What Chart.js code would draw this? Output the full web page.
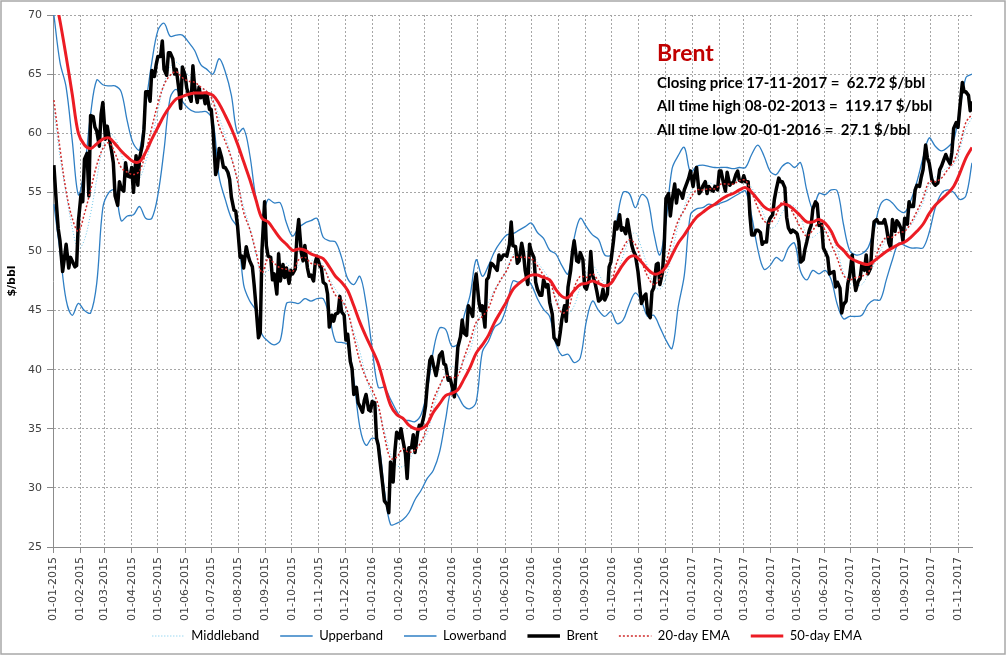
<!DOCTYPE html>
<html>
<head>
<meta charset="utf-8">
<script src="https://cdn.jsdelivr.net/npm/chart.js@4.4.0/dist/chart.umd.min.js"></script>
<style>
html,body{margin:0;padding:0;background:#fff;}
#wrap{position:relative;width:1007px;height:657px;}
</style>
</head>
<body>
<div id="wrap"><canvas id="c"></canvas></div>
<script>
// ---- tick labels (x axis, month starts) ----
const tickLabels = [
 '01-01-2015','01-02-2015','01-03-2015','01-04-2015','01-05-2015','01-06-2015','01-07-2015','01-08-2015','01-09-2015','01-10-2015','01-11-2015','01-12-2015',
 '01-01-2016','01-02-2016','01-03-2016','01-04-2016','01-05-2016','01-06-2016','01-07-2016','01-08-2016','01-09-2016','01-10-2016','01-11-2016','01-12-2016',
 '01-01-2017','01-02-2017','01-03-2017','01-04-2017','01-05-2017','01-06-2017','01-07-2017','01-08-2017','01-09-2017','01-10-2017','01-11-2017'
];
const axisStart = '2015-01-01';
const axisEnd = '2017-11-17';
const firstFriday = '2015-01-02';   // weekly samples: every Friday from here
const weekCount = 151;

// ---- Brent closing price, Mon/Wed/Fri samples (first week: Friday only) ----
const brentValues = [
 57.3,
 /* Jan 15 */ 53.9,51.9,50.9, 48.3,49.4,50.6, 48.6,49.5,49.2, 48.7,48.8,52.5,
 /* Feb 15 */ 54.8,54.2,57.8, 58.3,54.7,61.5, 61.4,60.5,60.2, 58.9,61.6,62.6,
 /* Mar 15 */ 59.5,60.6,59.7, 58.5,57.5,54.7, 53.9,55.9,55.3, 55.1,57.5,56.4, 56.3,57.1,55.0,
 /* Apr 15 */ 58.1,55.6,57.9, 58.9,60.3,63.5, 63.5,62.7,65.3, 64.8,65.8,66.5,
 /* May 15 */ 66.5,67.8,65.4, 64.9,66.8,66.8, 66.3,65.0,65.4, 63.7,62.1,65.6,
 /* Jun 15 */ 64.9,63.8,63.3, 62.7,65.7,63.9, 62.6,63.9,63.0, 63.3,62.5,63.3, 62.0,62.0,60.3,
 /* Jul 15 */ 56.5,57.1,58.7, 57.9,57.1,57.1, 56.7,56.1,54.6, 53.5,53.4,52.2,
 /* Aug 15 */ 49.5,49.6,48.6, 50.4,49.7,49.2, 48.7,47.2,45.5, 42.7,43.1,50.1,
 /* Sep 15 */ 54.2,50.5,49.6, 49.5,47.6,48.1, 46.4,49.8,47.5, 48.9,47.8,48.6, 47.3,48.4,48.1,
 /* Oct 15 */ 48.5,51.3,52.7, 49.9,49.2,50.5, 48.6,47.9,48.0, 47.5,49.1,49.6,
 /* Nov 15 */ 48.8,48.6,47.4, 47.2,46.4,43.6, 44.6,44.1,44.7, 44.8,46.2,44.9,
 /* Dec 15 */ 44.6,42.5,43.0, 40.7,40.1,37.9, 38.5,37.2,36.9, 36.4,37.4,37.9, 36.6,36.5,37.3,
 /* Jan 16 */ 37.2,34.2,33.6, 31.6,30.3,28.9, 28.6,27.9,32.2, 30.5,33.1,34.7,
 /* Feb 16 */ 34.2,35.0,34.1, 32.9,30.8,33.4, 33.4,34.5,33.0, 34.7,35.3,35.1,
 /* Mar 16 */ 36.0,36.9,38.7, 40.8,41.1,40.4, 39.5,40.3,41.2, 41.5,40.5,40.4, 39.1,39.3,38.7,
 /* Apr 16 */ 37.7,39.8,41.9, 42.8,44.2,43.1, 42.9,45.4,45.1, 44.5,47.2,48.1,
 /* May 16 */ 45.8,45.0,45.4, 43.6,47.6,47.8, 49.0,48.9,48.7, 48.4,49.7,49.3,
 /* Jun 16 */ 49.7,49.7,49.6, 50.6,52.5,50.5, 50.4,49.0,49.2, 50.7,49.9,48.4, 47.2,50.6,50.0,
 /* Jul 16 */ 49.5,47.4,46.8, 46.3,46.3,47.6, 47.0,47.2,45.7, 44.7,42.7,42.5,
 /* Aug 16 */ 42.1,43.1,44.3, 45.4,44.1,47.0, 48.4,49.9,50.9, 49.2,49.1,49.9,
 /* Sep 16 */ 49.3,47.0,46.8, 47.6,50.0,48.0, 47.3,46.6,45.8, 46.0,46.8,45.9, 46.4,48.7,49.1,
 /* Oct 16 */ 50.9,52.5,51.9, 53.1,51.8,52.0, 51.5,52.7,51.8, 50.5,50.0,49.7,
 /* Nov 16 */ 48.3,46.9,45.6, 46.2,46.4,44.8, 44.4,46.6,46.9, 48.9,49.0,47.2,
 /* Dec 16 */ 48.2,50.5,54.5, 54.9,53.0,54.3, 55.7,54.1,55.2, 54.9,54.5,55.2, 55.8,56.2,56.8,
 /* Jan 17 */ 55.5,56.5,57.1, 54.9,55.1,55.5, 55.9,54.9,55.5, 55.2,55.1,55.5,
 /* Feb 17 */ 55.2,56.8,56.8, 55.7,55.1,56.7, 55.6,55.8,55.8, 56.5,56.8,56.0,
 /* Mar 17 */ 55.9,56.4,55.9, 55.9,53.1,51.4, 51.4,51.8,51.8, 51.6,50.6,50.8, 50.8,52.4,52.8,
 /* Apr 17 */ 53.1,54.4,55.2, 56.2,55.9,55.9, 55.4,52.9,52.0, 51.6,51.8,51.7,
 /* May 17 */ 51.5,50.8,49.1, 49.3,50.2,50.8, 51.8,52.2,53.6, 54.2,54.0,52.2,
 /* Jun 17 */ 52.3,50.3,50.0, 49.5,48.1,48.2, 48.3,47.0,47.4, 46.9,44.8,45.5, 45.8,47.3,47.9,
 /* Jul 17 */ 49.7,47.8,46.7, 47.5,47.7,48.9, 48.4,49.7,48.1, 48.6,51.0,52.5,
 /* Aug 17 */ 52.7,52.4,52.4, 52.4,52.7,52.1, 50.7,50.3,52.7, 51.7,52.6,52.4,
 /* Sep 17 */ 51.9,50.9,52.8, 52.3,54.2,53.8, 53.8,55.2,55.6, 55.5,56.3,56.9, 59.0,57.9,57.5,
 /* Oct 17 */ 56.1,55.8,55.6, 55.8,56.9,57.2, 57.8,58.2,57.8, 57.4,58.4,60.4,
 /* Nov 17 */ 60.9,60.5,62.1, 64.3,63.5,63.5, 63.2,61.9,62.7
];

// ---- weekly (Friday) values of the indicator lines ----
const middleBand = [
 62.0,58.0,54.9,52.0,50.2,51.0,53.2,56.1,58.9,60.0, 59.6,58.2,57.0,56.1,56.2,57.6,59.5,61.9,64.2,65.6,
 66.0,65.5,64.9,64.4,63.8,63.6,62.9,61.3,59.8,58.0, 55.9,53.8,52.0,49.8,47.9,48.4,48.1,48.3,49.0,48.2,
 48.8,49.2,49.2,49.4,48.8,47.7,46.8,46.0,44.7,43.2, 41.5,39.4,37.8,36.6,34.8,32.9,31.9,31.8,32.3,33.3,
 33.9,34.6,36.7,38.4,39.8,40.3,40.0,40.8,41.7,43.6, 45.0,45.7,46.8,47.5,48.5,49.7,49.9,50.0,49.9,49.1,
 48.4,47.6,46.1,45.0,44.7,45.4,47.0,48.1,48.8,48.1, 47.3,47.3,48.2,49.6,51.0,51.6,50.3,48.7,47.2,46.8,
 47.8,49.9,52.2,53.8,55.0,55.6,55.6,55.8,55.6,55.6, 55.7,55.8,56.1,56.0,55.4,54.4,53.1,52.0,52.2,53.3,
 53.9,53.8,52.9,51.4,51.2,51.6,51.7,51.4,50.1,48.2, 47.3,47.1,47.2,48.0,48.9,50.0,51.1,51.7,52.1,51.9,
 52.2,53.1,54.1,55.7,56.3,56.7,57.1,57.3,58.6,60.4, 61.3
];
const upperBand = [
 70.0,66.0,63.9,59.4,54.8,57.0,61.6,64.5,64.1,64.0, 64.0,63.5,61.0,59.1,58.6,62.4,66.0,68.7,69.3,68.2,
 68.3,68.3,67.7,67.0,65.8,65.4,65.0,66.3,65.2,63.2, 60.0,60.4,58.2,54.6,53.0,54.4,54.1,54.1,52.4,51.3,
 52.0,52.4,52.6,52.8,51.2,50.9,50.8,49.5,47.7,47.2, 47.9,45.6,41.8,38.5,38.5,37.5,36.5,35.8,35.7,35.6,
 36.2,38.3,41.6,43.5,43.4,42.0,42.2,44.5,46.3,49.3, 47.9,48.8,50.0,50.8,51.4,51.5,51.8,52.1,52.4,51.6,
 51.1,50.1,49.8,48.8,48.1,51.1,52.8,52.1,51.4,51.0, 49.7,49.7,52.7,55.0,54.9,53.7,54.8,54.4,51.6,49.7,
 52.5,57.0,58.1,58.8,56.7,57.2,57.3,57.2,57.1,57.1, 57.1,57.0,57.1,57.1,58.2,59.0,58.1,56.8,56.5,57.2,
 57.5,57.1,57.5,55.2,53.6,54.9,54.8,55.2,55.1,52.3, 50.1,49.7,49.8,50.3,51.9,53.9,54.4,54.1,53.5,53.3,
 54.3,55.9,57.9,59.6,58.9,58.5,58.8,59.4,62.0,64.7, 65.0
];
const lowerBand = [
 54.0,50.0,45.9,44.6,45.6,45.0,44.8,47.3,53.7,55.0, 55.2,52.6,53.0,53.1,53.8,52.8,52.8,54.8,58.6,63.0,
 63.7,62.7,62.1,61.8,61.8,61.8,61.0,56.3,54.4,52.8, 52.0,47.2,45.8,45.0,43.0,42.4,42.1,42.5,45.6,45.7,
 45.6,46.0,45.8,46.0,46.0,44.5,42.4,42.3,42.1,39.2, 35.1,33.6,34.2,33.9,29.8,26.9,27.0,27.3,27.9,29.0,
 29.8,30.8,31.5,33.0,35.8,38.4,37.8,36.9,36.7,37.3, 41.5,42.4,43.6,44.0,45.4,47.5,47.4,47.7,47.2,46.0,
 45.1,44.5,42.2,41.2,41.3,40.6,41.0,44.1,45.8,45.0, 44.5,44.9,43.9,44.2,45.5,46.5,45.8,44.5,44.6,43.6,
 42.5,41.8,45.3,48.0,53.1,53.6,53.7,54.0,53.9,54.1, 54.3,54.6,54.9,55.1,53.0,50.2,48.5,48.8,49.5,49.2,
 50.3,50.7,48.3,47.6,48.4,48.1,48.4,47.6,45.5,44.3, 44.5,44.5,44.6,45.5,45.9,45.9,47.6,49.3,50.7,50.5,
 50.3,50.3,50.3,51.6,53.7,54.9,55.2,55.0,54.4,54.7, 57.5
];
const ema20 = [
 62.8,58.7,55.1,52.8,51.7,53.2,55.2,57.3,58.7,59.2, 58.3,57.1,56.7,56.5,56.8,58.4,60.5,62.5,64.1,64.9,
 65.2,64.7,64.4,64.3,63.9,63.5,62.7,60.6,59.3,57.9, 56.0,53.3,51.9,50.0,48.2,49.4,49.0,48.6,48.5,48.3,
 49.3,49.5,49.0,48.9,48.7,47.5,46.3,45.9,44.9,42.8, 40.7,39.3,38.3,37.0,34.4,32.5,32.6,33.3,33.0,33.2,
 33.9,35.2,37.4,38.6,39.5,39.3,39.5,41.0,42.4,44.0, 44.5,45.2,46.6,47.6,48.4,49.5,49.5,49.5,49.4,48.8,
 48.0,47.5,45.9,44.8,45.1,46.9,47.9,47.8,48.1,47.5, 47.0,47.4,49.1,50.3,51.0,50.6,49.2,47.9,47.2,47.7,
 49.0,51.0,52.6,53.5,54.5,55.2,55.2,55.3,55.3,55.7, 55.7,55.7,56.0,56.0,55.0,53.7,52.6,52.4,53.1,54.2,
 53.9,53.0,52.0,51.3,51.8,52.4,51.8,50.6,49.4,48.0, 47.6,47.8,47.9,48.2,49.2,50.5,51.2,51.2,51.6,51.7,
 52.4,53.4,54.5,55.9,55.9,56.2,56.9,57.6,59.0,60.9, 61.6
];
const ema50 = [
 72.0,69.5,66.5,63.3,60.0,59.0,58.7,59.1,59.5,59.6, 59.1,58.5,58.0,57.6,57.6,58.4,59.5,60.5,61.5,62.3,
 62.9,63.1,63.3,63.4,63.4,63.4,63.2,62.5,61.5,60.4, 59.1,57.6,56.1,54.4,52.8,52.5,51.8,51.1,50.6,50.1,
 50.2,50.1,49.8,49.6,49.4,48.7,47.9,47.4,46.7,45.4, 44.0,42.8,41.7,40.5,38.7,37.0,36.2,35.9,35.3,35.0,
 35.0,35.4,36.4,37.1,37.8,38.0,38.3,39.2,40.2,41.4, 42.1,42.9,44.0,44.9,45.8,46.8,47.3,47.7,48.0,48.0,
 47.8,47.6,46.8,46.2,46.1,46.7,47.2,47.3,47.5,47.3, 47.1,47.3,48.1,48.9,49.5,49.6,49.1,48.5,48.1,48.2,
 48.7,49.7,50.7,51.4,52.2,52.9,53.3,53.7,54.0,54.4, 54.7,54.9,55.2,55.4,55.0,54.4,53.8,53.5,53.6,54.0,
 53.9,53.5,53.0,52.5,52.5,52.7,52.4,51.7,50.6,50.1, 49.5,49.2,49.0,48.9,49.2,49.6,50.0,50.3,50.6,50.8,
 51.2,51.7,52.3,53.2,53.9,54.4,54.9,55.5,56.6,57.9, 58.8
];

// ---- annotation texts ----
const titleText = 'Brent';
const infoLines = [
 'Closing price 17-11-2017 =  62.72 $/bbl',
 'All time high 08-02-2013 =  119.17 $/bbl',
 'All time low 20-01-2016 =  27.1 $/bbl'
];

// ---- helpers: dates -> day numbers on the linear x axis ----
const DAY = 86400000;
const t0 = Date.parse(axisStart + 'T00:00:00Z');
const dayOfIso = s => (Date.parse(s + 'T00:00:00Z') - t0) / DAY;
const dayOfLabel = s => { const [d, m, y] = s.split('-'); return dayOfIso(y + '-' + m + '-' + d); };
const tickDays = tickLabels.map(dayOfLabel);
const fri0 = dayOfIso(firstFriday);
const weekDays = Array.from({length: weekCount}, (_, k) => fri0 + 7 * k);
const brentDays = [fri0];
for (let k = 1; k < weekCount; k++) { const f = fri0 + 7 * k; brentDays.push(f - 4, f - 2, f); }
const toXY = (days, vals) => vals.map((v, i) => ({x: days[i], y: v}));

const bgPlugin = {
  id: 'bg',
  afterLayout(chart) {
    // legend is centred on the whole page width, not on the plot
    if (chart.legend) { chart.legend.left += 21; chart.legend.right += 21; }
  },
  beforeDraw(chart) {
    const c = chart.ctx;
    c.save(); c.fillStyle = '#fff'; c.fillRect(0, 0, chart.width, chart.height); c.restore();
    // let the rotated date labels run past the axis box (they are longer than the box is tall)
    if (chart.scales.x) chart.scales.x._computeLabelArea = () => undefined;
  },
  afterDraw(chart) {
    const c = chart.ctx;
    c.save(); c.strokeStyle = '#a8a8a8'; c.lineWidth = 1.5;
    c.strokeRect(1, 1, chart.width - 3, chart.height - 4); c.restore();
  }
};
const annotPlugin = {
  id: 'annot',
  afterDraw(chart) {
    const c = chart.ctx;
    c.save();
    c.textBaseline = 'alphabetic'; c.textAlign = 'left';
    c.fillStyle = '#c00000'; c.font = 'bold 23px Lato';
    c.fillText(titleText, 657, 61);
    c.fillStyle = '#000'; c.font = 'bold 15px Lato';
    infoLines.forEach((t, i) => c.fillText(t, 657, 88 + i * 23.4));
    c.restore();
  }
};

const gridCommon = {color: '#a6a6a6', lineWidth: 1, tickLength: 6, tickColor: '#8c8c8c', tickWidth: 1, tickBorderDash: []};
const borderCommon = {color: '#8c8c8c', width: 1, dash: [2, 2]};
const tickFont = {family: 'DejaVu Sans', size: 11};

new Chart(document.getElementById('c'), {
  type: 'line',
  data: {
    datasets: [
      {label: 'Middleband', data: toXY(weekDays, middleBand), borderColor: '#6cc6ea', borderWidth: 1, borderDash: [1, 2], tension: 0.35, order: 6},
      {label: 'Upperband', data: toXY(weekDays, upperBand), borderColor: '#2f7fc4', borderWidth: 1.3, tension: 0.35, order: 5},
      {label: 'Lowerband', data: toXY(weekDays, lowerBand), borderColor: '#2f7fc4', borderWidth: 1.3, tension: 0.35, order: 4},
      {label: 'Brent', data: toXY(brentDays, brentValues), borderColor: '#000', borderWidth: 3.5, tension: 0, borderJoinStyle: 'round', order: 3},
      {label: '20-day EMA', data: toXY(weekDays, ema20), borderColor: '#cf2a2a', borderWidth: 1.5, borderDash: [2, 2], tension: 0.35, order: 2},
      {label: '50-day EMA', data: toXY(weekDays, ema50), borderColor: '#ec1c24', borderWidth: 3, tension: 0.35, order: 1, clip: 0}
    ].map(d => Object.assign({pointRadius: 0, pointHoverRadius: 0, pointStyle: 'line', fill: false}, d))
  },
  options: {
    responsive: true, maintainAspectRatio: false, animation: false, devicePixelRatio: 1,
    layout: {padding: {top: 15, right: 35, left: 0, bottom: 4.5}},
    plugins: {
      legend: {
        position: 'bottom',
        labels: {
          usePointStyle: true, pointStyleWidth: 32.5, padding: 21, color: '#000', font: {family: 'Lato', size: 13},
          generateLabels(chart) {
            const items = Chart.defaults.plugins.legend.labels.generateLabels(chart);
            items.forEach(it => {
              const ds = chart.data.datasets[it.datasetIndex];
              it.lineDash = ds.borderDash || [];
              it.lineWidth = ds.borderWidth;
              it.strokeStyle = ds.borderColor;
              it.fillStyle = ds.borderColor;
            });
            return items.sort((a, b) => a.datasetIndex - b.datasetIndex);
          }
        }
      },
      tooltip: {enabled: false}
    },
    scales: {
      x: {
        type: 'linear', min: 0, max: dayOfIso(axisEnd),
        afterBuildTicks: s => { s.ticks = tickDays.map(v => ({value: v})); },
        afterFit: s => { s.height = 61.5; },
        ticks: {autoSkip: false, minRotation: 90, maxRotation: 90, padding: 4, color: '#404040', font: tickFont,
                callback: (v, i) => tickLabels[i]},
        grid: gridCommon, border: borderCommon
      },
      y: {
        min: 25, max: 70,
        afterFit: s => { s.width = 53; },
        ticks: {stepSize: 5, padding: 5, color: '#404040', font: tickFont},
        title: {display: true, text: '$/bbl', color: '#000', font: {family: 'DejaVu Sans', size: 11, weight: 'bold'}, padding: {top: 6, bottom: 0}},
        grid: gridCommon, border: borderCommon
      }
    }
  },
  plugins: [bgPlugin, annotPlugin]
});
</script>
</body>
</html>
